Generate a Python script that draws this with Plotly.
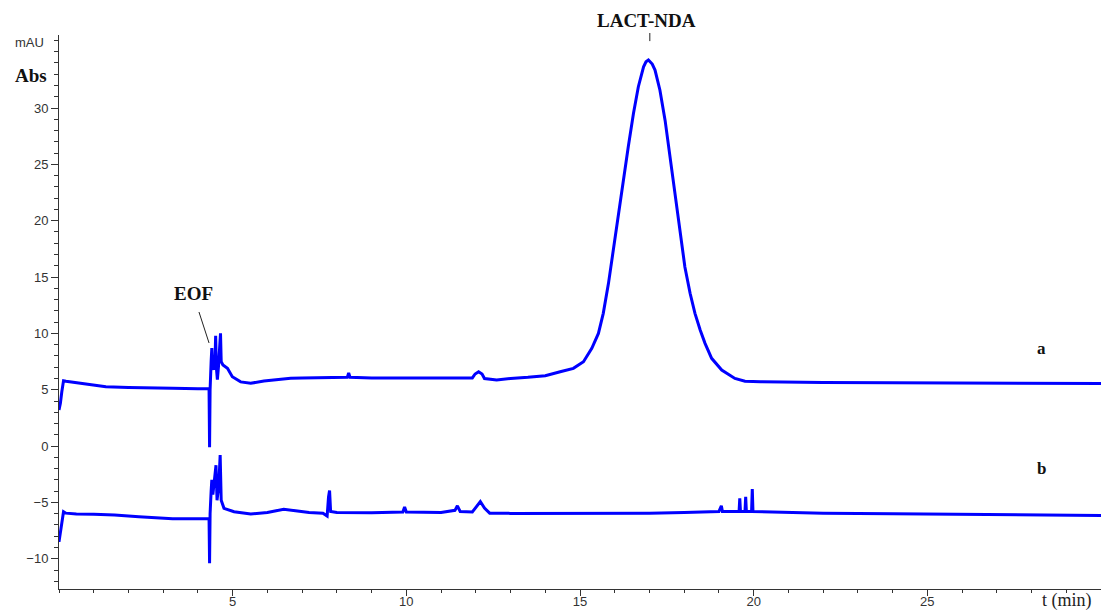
import plotly.graph_objects as go

# ---- data (time in min, absorbance in mAU) ----
t_a = [0.0, 0.04, 0.08, 0.13, 0.2, 0.5, 1.0, 1.35, 2.0, 2.5, 3.27, 4.0, 4.3, 4.32, 4.335, 4.35,
       4.38, 4.40, 4.42, 4.46, 4.49, 4.51, 4.53, 4.56, 4.59, 4.63, 4.65, 4.67, 4.72, 4.85, 4.99,
       5.23, 5.52, 5.9, 6.28, 6.67, 7.0, 8.0, 8.3, 8.34, 8.38, 9.0, 10.0, 11.0, 11.9, 11.98,
       12.08, 12.18, 12.25, 12.6, 13.0, 13.5, 14.0, 14.43, 14.81, 15.10, 15.34, 15.53, 15.67,
       15.82, 15.96, 16.10, 16.25, 16.39, 16.54, 16.68, 16.83, 16.9, 16.97, 17.02, 17.08, 17.16,
       17.30, 17.45, 17.59, 17.74, 17.88, 18.02, 18.17, 18.31, 18.46, 18.6, 18.79, 19.08, 19.46,
       19.75, 20.2, 21.0, 22.0, 24.0, 26.0, 28.0, 30.0]
a_vals = [3.2, 3.8, 4.8, 5.8, 5.75, 5.63, 5.4, 5.27, 5.2, 5.15, 5.13, 5.1, 5.1, 5.1, -0.1, 5.0,
          7.5, 8.7, 7.0, 6.8, 7.5, 9.8, 7.0, 5.9, 7.0, 8.5, 10.0, 7.5, 7.2, 6.9, 6.16,
          5.7, 5.57, 5.78, 5.93, 6.02, 6.05, 6.07, 6.1, 6.5, 6.1, 6.05, 6.05, 6.05, 6.05, 6.4,
          6.6, 6.4, 6.0, 5.86, 6.0, 6.1, 6.25, 6.6, 6.9, 7.49, 8.68, 10.0, 11.78,
          14.44, 17.4, 20.36, 23.9, 26.57, 29.53, 31.89, 33.66, 34.1, 34.26, 34.1, 33.9, 33.37,
          31.6, 28.9, 25.7, 22.1, 18.9, 15.9, 13.56, 11.78, 10.3, 9.12, 7.79, 6.75, 6.0,
          5.75, 5.72, 5.68, 5.65, 5.62, 5.6, 5.57, 5.55]

t_b = [0.0, 0.04, 0.08, 0.13, 0.2, 0.5, 1.0, 1.6, 2.3, 3.27, 4.0, 4.3, 4.32, 4.335, 4.35,
       4.38, 4.40, 4.43, 4.46, 4.49, 4.52, 4.55, 4.60, 4.64, 4.67, 4.75, 5.04, 5.52, 6.0, 6.47,
       6.8, 7.2, 7.6, 7.72, 7.76, 7.79, 7.82, 8.0, 9.0, 9.9, 9.95, 10.0, 11.0, 11.4, 11.47,
       11.55, 11.9, 12.0, 12.13, 12.25, 12.4, 13.0, 15.0, 17.0, 18.0, 19.0, 19.07, 19.1,
       19.58, 19.6, 19.62, 19.75, 19.77, 19.79, 19.94, 19.96, 19.98, 20.5, 22.0, 24.0, 26.0,
       28.0, 30.0]
b_vals = [-8.5, -7.7, -7.0, -5.82, -5.95, -6.03, -6.05, -6.11, -6.26, -6.45, -6.45, -6.45, -6.45, -10.4, -6.0,
          -4.0, -3.0, -4.3, -3.5, -3.0, -1.7, -4.8, -3.5, -0.8, -4.8, -5.52, -5.82, -6.03, -5.9, -5.6,
          -5.75, -5.9, -5.95, -6.2, -4.5, -3.95, -5.8, -5.9, -5.92, -5.85, -5.4, -5.85, -5.9, -5.7, -5.3,
          -5.8, -5.85, -5.4, -4.92, -5.5, -5.95, -5.97, -5.98, -5.95, -5.9, -5.8, -5.3, -5.8,
          -5.8, -4.63, -5.8, -5.8, -4.5, -5.8, -5.8, -3.8, -5.8, -5.85, -5.95, -6.0, -6.05,
          -6.1, -6.15]

y_ticks = [-10, -5, 0, 5, 10, 15, 20, 25, 30]
x_ticks = [5, 10, 15, 20, 25]

BLUE = "#0000FF"
SERIF = "Liberation Serif"
SANS = "Liberation Sans"

fig = go.Figure()
fig.add_trace(go.Scatter(x=t_a, y=a_vals, mode="lines", line=dict(color=BLUE, width=3),
                         showlegend=False, hoverinfo="skip"))
fig.add_trace(go.Scatter(x=t_b, y=b_vals, mode="lines", line=dict(color=BLUE, width=3),
                         showlegend=False, hoverinfo="skip"))

fig.update_layout(
    width=1101, height=610,
    margin=dict(l=59, r=0, t=35, b=21),
    paper_bgcolor="white", plot_bgcolor="white",
    xaxis=dict(range=[0, 30], tickvals=x_ticks, showgrid=False, zeroline=False,
               automargin=False, ticklabelstandoff=-6,
               showline=True, linecolor="#333333", linewidth=1,
               ticks="outside", ticklen=6, tickcolor="#333333",
               tickfont=dict(family=SANS, size=13, color="#333333"),
               minor=dict(dtick=1, ticks="outside", ticklen=3, tickcolor="#333333")),
    yaxis=dict(range=[-12.68, 36.48], tickvals=y_ticks, showgrid=False, zeroline=False,
               automargin=False,
               showline=True, linecolor="#333333", linewidth=1,
               ticks="outside", ticklen=7, tickcolor="#333333",
               tickfont=dict(family=SANS, size=13, color="#333333"),
               minor=dict(dtick=1, ticks="outside", ticklen=4, tickcolor="#333333")),
)

ann_font = dict(family=SERIF, size=19, color="#111111")
fig.add_annotation(text="<b>Abs</b>", xref="paper", yref="y", x=-0.027, y=32.9,
                   xanchor="center", yanchor="middle", showarrow=False, font=ann_font)
fig.add_annotation(text="mAU", xref="paper", yref="y", x=-0.0125, y=35.8, xanchor="right",
                   showarrow=False, font=dict(family=SANS, size=13, color="#333333"))
fig.add_annotation(text="<b>EOF</b>", x=3.86, y=13.58, showarrow=False, font=ann_font)
fig.add_annotation(text="<b>LACT-NDA</b>", xref="paper", yref="paper", x=0.5635, y=1.027,
                   xanchor="center", yanchor="middle", showarrow=False, font=ann_font)
fig.add_annotation(text="<b>a</b>", x=28.28, y=8.7, showarrow=False,
                   font=dict(family=SERIF, size=17, color="#111111"))
fig.add_annotation(text="<b>b</b>", x=28.28, y=-2.03, showarrow=False,
                   font=dict(family=SERIF, size=17, color="#111111"))
fig.add_annotation(text="t (min)", xref="x", yref="paper", x=29.03, y=0, yanchor="top",
                   yshift=1, showarrow=False, font=dict(family=SERIF, size=18, color="#222222"))

fig.add_shape(type="line", x0=4.03, y0=11.9, x1=4.32, y1=9.15,
              line=dict(color="#222222", width=1))
fig.add_shape(type="line", xref="paper", yref="paper", x0=0.567, x1=0.567, y0=0.989, y1=1.0036,
              line=dict(color="#222222", width=1))

fig.write_html("out.html")
